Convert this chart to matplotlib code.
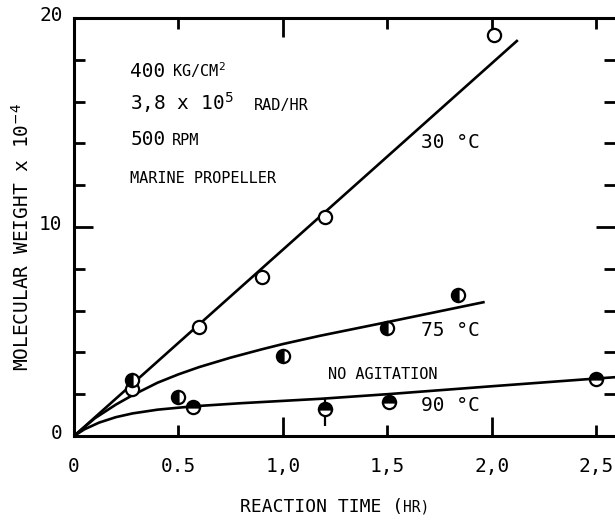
import matplotlib
matplotlib.use("Agg")
import matplotlib.pyplot as plt
from matplotlib.ticker import FixedLocator

plt.rcParams['font.family'] = ['DejaVu Sans Mono']

# --- data ---
t30 = [0.28, 0.60, 0.90, 1.20, 2.01]
mw30 = [2.25, 5.2, 7.6, 10.5, 19.2]
fit30_x = [0.0, 2.12]
fit30_y = [0.0, 18.9]

t75 = [0.28, 0.50, 1.00, 1.50, 1.84]
mw75 = [2.7, 1.87, 3.85, 5.15, 6.75]
fit75_x = [0.0, 0.1, 0.2, 0.28, 0.4, 0.5, 0.6, 0.75, 0.9, 1.0, 1.18, 1.5, 1.96]
fit75_y = [0.0, 0.85, 1.5, 1.95, 2.55, 2.95, 3.3, 3.75, 4.15, 4.4, 4.8, 5.45, 6.4]

t90 = [0.57, 1.20, 1.51, 2.50]
mw90 = [1.39, 1.3, 1.65, 2.73]
err90_lo = [0.0, 0.8, 0.0, 0.0]
err90_hi = [0.0, 0.5, 0.0, 0.0]
fit90_x = [0.0, 0.05, 0.12, 0.2, 0.28, 0.4, 0.57, 0.8, 1.0, 1.18, 1.5, 2.0, 2.5, 2.6]
fit90_y = [0.0, 0.32, 0.64, 0.9, 1.08, 1.26, 1.42, 1.57, 1.68, 1.78, 2.0, 2.38, 2.75, 2.82]

xticks = [0, 0.5, 1.0, 1.5, 2.0, 2.5]
xticklabels = ["0", "0.5", "1,0", "1,5", "2,0", "2,5"]
yticks = [0, 10, 20]
yticklabels = ["0", "10", "20"]

fig = plt.figure(figsize=(6.15, 5.23), dpi=100)
ax = fig.add_axes([74/615, 87/523, 1 - 74/615, 418/523])
ax.set_xlim(0, 2.59)
ax.set_ylim(0, 20)

lw = 1.9
ax.plot(fit30_x, fit30_y, color='black', lw=lw, zorder=2)
ax.plot(fit75_x, fit75_y, color='black', lw=lw, zorder=2)
ax.plot(fit90_x, fit90_y, color='black', lw=lw, zorder=2)

ms = 9.5
mew = 1.6
ax.plot(t30, mw30, 'o', ms=ms, mfc='white', mec='black', mew=mew, zorder=3, clip_on=False)
ax.plot(t75, mw75, 'o', ms=ms, mfc='black', mfcalt='white', fillstyle='left',
        mec='black', mew=mew, zorder=3, clip_on=False)
ax.errorbar(t90, mw90, yerr=[err90_lo, err90_hi], fmt='none', ecolor='black',
            elinewidth=1.6, capsize=0, zorder=2)
ax.plot(t90, mw90, 'o', ms=ms, mfc='black', mfcalt='white', fillstyle='top',
        mec='black', mew=mew, zorder=3, clip_on=False)

# spines
for s in ['left', 'bottom', 'top']:
    ax.spines[s].set_linewidth(2.2)
ax.spines['right'].set_visible(False)

# ticks
ax.xaxis.set_major_locator(FixedLocator([1.0, 2.0]))
ax.xaxis.set_minor_locator(FixedLocator([0.5, 1.5, 2.5]))
ax.yaxis.set_major_locator(FixedLocator([10]))
ax.yaxis.set_minor_locator(FixedLocator([2, 4, 6, 8, 12, 14, 16, 18]))
ax.tick_params(axis='both', which='both', direction='in', labelbottom=False,
               labelleft=False, top=True, right=True, width=2.0)
ax.tick_params(axis='both', which='major', length=14)
ax.tick_params(axis='both', which='minor', length=8)

# tick labels as text
tfs = 14
for xv, lab in zip(xticks, xticklabels):
    ax.text(xv, -1.45, lab, ha='center', va='center', fontsize=tfs)
for yv, lab in zip(yticks, yticklabels):
    ax.text(-0.055, yv + 0.1, lab, ha='right', va='center', fontsize=tfs)

# axis labels
fig.text(22/615, 1 - 237/523, r"MOLECULAR WEIGHT x 10$^{-4}$", rotation=90,
         ha='center', va='center', fontsize=14)

renderer = fig.canvas.get_renderer()
t1 = fig.text(240/615, 1 - 512/523, "REACTION TIME (", ha='left', va='baseline', fontsize=13)
bb = t1.get_window_extent(renderer=renderer)
fig.text(bb.x1 / 615, 1 - 512/523, "HR)", ha='left', va='baseline', fontsize=10.5)

# annotations
afs = 14
sfs = 11
ax.text(0.27, 17.2, "400", fontsize=afs, va='baseline')
ax.text(0.47, 17.2, r"KG/CM$^{2}$", fontsize=sfs, va='baseline')
ax.text(0.27, 15.6, r"3,8 x 10$^{5}$", fontsize=afs, va='baseline')
ax.text(0.86, 15.6, "RAD/HR", fontsize=sfs, va='baseline')
ax.text(0.27, 13.9, "500", fontsize=afs, va='baseline')
ax.text(0.47, 13.9, "RPM", fontsize=sfs, va='baseline')
ax.text(0.27, 12.1, "MARINE PROPELLER", fontsize=sfs, va='baseline')
ax.text(1.66, 13.8, "30 °C", fontsize=afs, va='baseline')
ax.text(1.66, 4.8, "75 °C", fontsize=afs, va='baseline')
ax.text(1.215, 2.75, "NO AGITATION", fontsize=sfs, va='baseline')
ax.text(1.66, 1.2, "90 °C", fontsize=afs, va='baseline')

fig.savefig("out.png", dpi=100)
